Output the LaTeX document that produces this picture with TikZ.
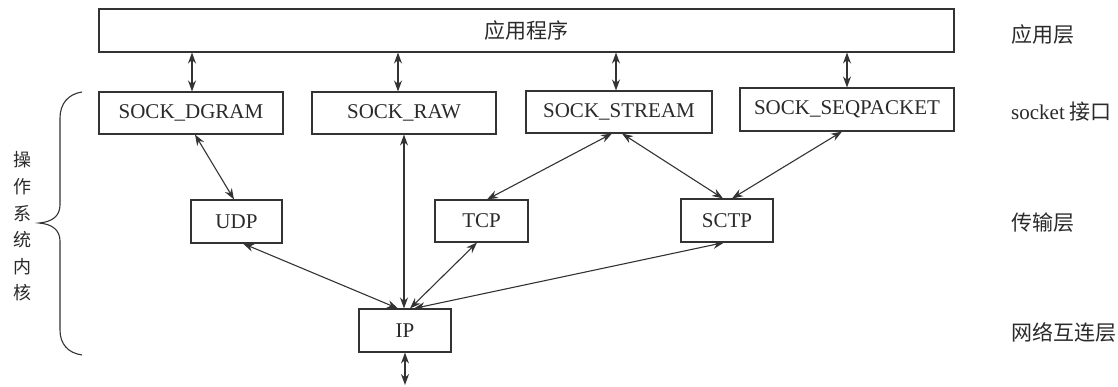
\documentclass[tikz,border=0pt]{standalone}
\usepackage{fontspec}
\setmainfont{Liberation Serif}
\newfontfamily\cjk{Noto Sans CJK SC}
\usetikzlibrary{arrows.meta,calc}
\definecolor{linegray}{HTML}{333333}
\definecolor{txtgray}{HTML}{2A2A2A}
\begin{document}
\begin{tikzpicture}[x=1pt,y=-1pt,
  box/.style={draw=linegray, line width=1.1pt, inner sep=0pt, font=\fontsize{21}{24}\selectfont, text=txtgray},
  conn/.style={draw=linegray, line width=1.1pt, {Stealth[length=11pt,width=8pt]}-{Stealth[length=11pt,width=8pt]}},
  lbl/.style={anchor=west, inner sep=0pt, font=\cjk\fontsize{21}{24}\selectfont, text=txtgray}]
\useasboundingbox (0,0) rectangle (1118,386);
% boxes
\node[box, minimum width=855, minimum height=43] (app) at (526.5,30.5) {\cjk 应用程序};
\node[box, minimum width=184, minimum height=42] (dgram) at (191,113) {SOCK\_DGRAM};
\node[box, minimum width=184, minimum height=42] (raw) at (404,113) {SOCK\_RAW};
\node[box, minimum width=186, minimum height=42] (stream) at (619,112) {SOCK\_STREAM};
\node[box, minimum width=214, minimum height=43] (seq) at (847,109.5) {SOCK\_SEQPACKET};
\node[box, minimum width=91, minimum height=43] (udp) at (236.5,221.5) {UDP};
\node[box, minimum width=93, minimum height=42] (tcp) at (481.5,221) {TCP};
\node[box, minimum width=92, minimum height=43] (sctp) at (727,220.5) {SCTP};
\node[box, minimum width=92, minimum height=43] (ip) at (405,330.5) {IP};
% app <-> socket
\draw[conn] ([xshift=1]dgram.north) -- ([xshift=1]dgram.north |- app.south);
\draw[conn] ([xshift=-6]raw.north) -- ([xshift=-6]raw.north |- app.south);
\draw[conn] ([xshift=-3]stream.north) -- ([xshift=-3]stream.north |- app.south);
\draw[conn] (seq.north) -- (seq.north |- app.south);
% socket <-> transport
\draw[conn] ([xshift=4]dgram.south) -- ([xshift=-2.5]udp.north);
\draw[conn] ([xshift=5.5]tcp.north) -- ([xshift=-7]stream.south);
\draw[conn] ([xshift=3]stream.south) -- ([xshift=-4]sctp.north);
\draw[conn] ([xshift=-5]seq.south) -- ([xshift=5]sctp.north);
% IP
\draw[conn] ([xshift=-1]ip.north) -- ([xshift=-1]ip.north |- raw.south);
\draw[conn] ([xshift=-7]ip.north) -- ([xshift=6.5]udp.south);
\draw[conn] ([xshift=5]ip.north) -- ([xshift=-4.5]tcp.south);
\draw[conn] ([xshift=9]ip.north) -- ([xshift=-3]sctp.south);
\coordinate (bot) at (405,385);
\draw[conn] (ip.south) -- (bot);
% brace
\draw[linegray, line width=1.1pt] (82,92) .. controls (68,94) and (60,104) .. (60,118) -- (60,205) .. controls (60,216) and (52,222) .. (39,223) .. controls (52,224) and (60,230) .. (60,241) -- (60,330) .. controls (60,344) and (68,353) .. (82,355);
\node[font=\cjk\fontsize{18}{26.6}\selectfont, align=center, inner sep=0pt, text=txtgray] (os) at (22,226.5) {操\\作\\系\\统\\内\\核};
% layer labels
\node[lbl] (l1) at (1011,35) {应用层};
\node[lbl] (l2) at (1011,112) {{\rmfamily socket} 接口};
\node[lbl] (l3) at (1011,223) {传输层};
\node[lbl] (l4) at (1011,332) {网络互连层};
\end{tikzpicture}
\end{document}
